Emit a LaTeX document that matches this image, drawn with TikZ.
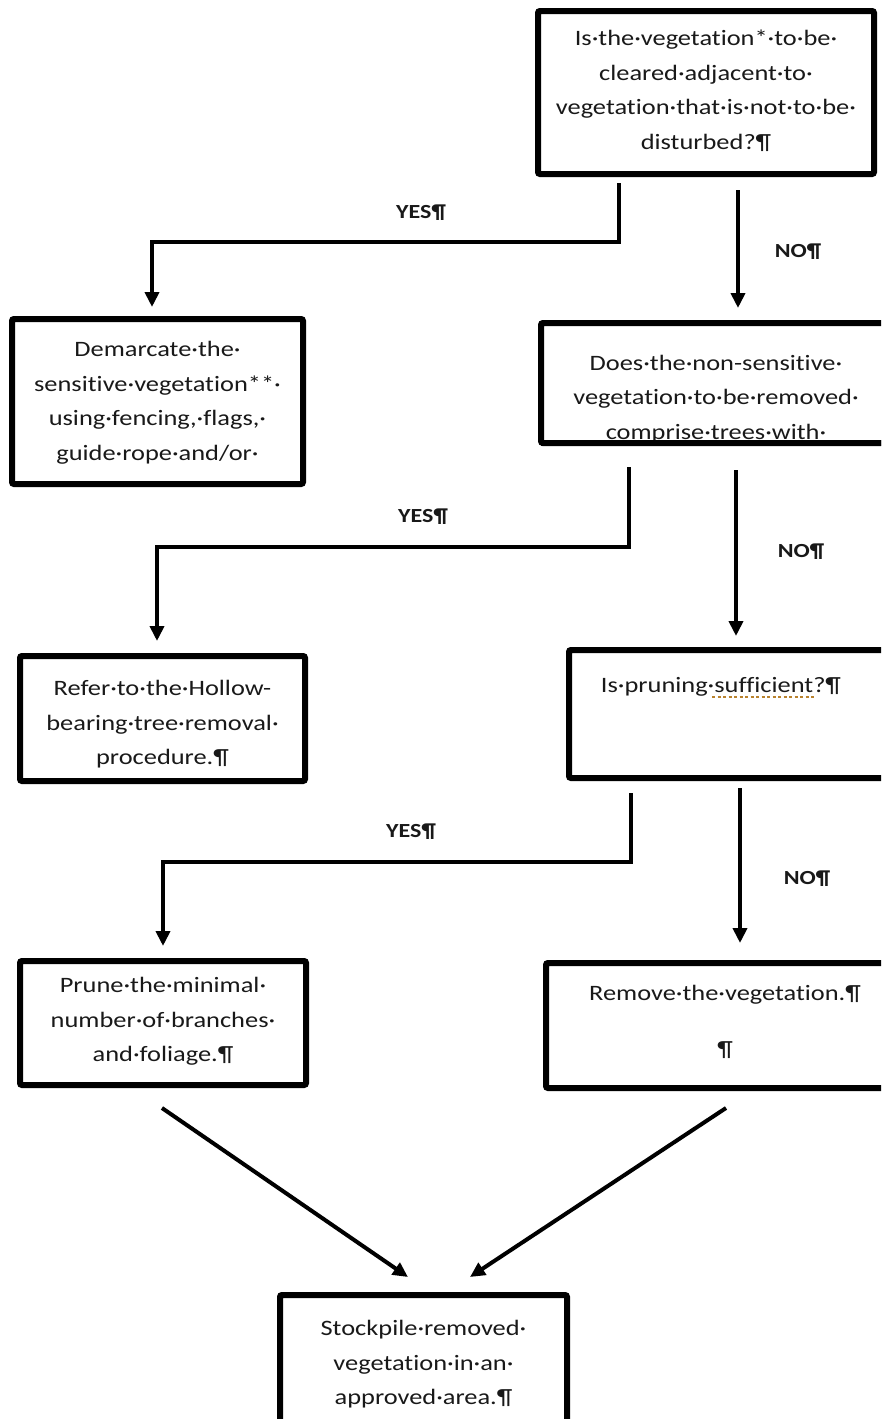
\documentclass[tikz,border=0pt]{standalone}
\usepackage{fontspec}
\setmainfont{Carlito}[FakeStretch=1.2, Ligatures=NoCommon]
\usetikzlibrary{arrows.meta}
\definecolor{txtc}{RGB}{25,25,25}
\definecolor{spellc}{RGB}{185,130,45}
\newcommand\bodyf{\fontsize{22}{34.5}\selectfont}
\newcommand\labf{\fontsize{20}{22}\selectfont\bfseries}
\begin{document}
\begin{tikzpicture}[x=1pt,y=-1pt,
  box/.style={draw, line width=6pt, rounded corners=2pt, inner sep=0pt, outer sep=0pt},
  txt/.style={anchor=north, align=center, inner sep=0pt, font=\bodyf, text=txtc},
  lab/.style={inner sep=0pt, font=\labf, text=txtc},
  arr/.style={line width=4pt, -{Triangle[length=15pt,width=14pt]}}]
\useasboundingbox (0,0) rectangle (881,1419);
\clip (0,0) rectangle (881,1419);
% boxes
\node[box, minimum width=336pt, minimum height=163pt] (q1) at (706,92.5) {};
\node[box, minimum width=291pt, minimum height=165pt] (demarc) at (157.5,401.5) {};
\node[box, minimum width=350pt, minimum height=120pt] (q2) at (716,383) {};
\node[box, minimum width=285pt, minimum height=125pt] (refer) at (162.5,718.5) {};
\node[box, minimum width=316pt, minimum height=128pt] (q3) at (727,714) {};
\node[box, minimum width=286pt, minimum height=124pt] (prune) at (163,1023) {};
\node[box, minimum width=358pt, minimum height=125pt] (remove) at (725,1025.5) {};
\node[box, minimum width=287pt, minimum height=145pt] (stock) at (423.5,1367.5) {};
% texts
\node[txt] (q1t) at (706,21.2) {\strut Is·the·vegetation*·to·be·\\\strut cleared·adjacent·to·\\\strut vegetation·that·is·not·to·be·\\\strut disturbed?¶};
\node[txt] (demarct) at (157.5,332.2) {\strut Demarcate·the·\\\strut sensitive·vegetation**·\\\strut using·fencing,·flags,·\\\strut guide·rope·and/or·};
\node[txt] (q2t) at (716,345.7) {\strut Does·the·non-sensitive·\\\strut vegetation·to·be·removed·\\\strut comprise·trees·with·};
\node[txt] (refert) at (162.5,671.2) {\strut Refer·to·the·Hollow-\\\strut bearing·tree·removal·\\\strut procedure.¶};
\node[txt] (q3t) at (721,668.2) {\strut Is·pruning·sufficient?¶};
\node[txt] (prunet) at (163,968.2) {\strut Prune·the·minimal·\\\strut number·of·branches·\\\strut and·foliage.¶};
\node[txt] (removet) at (725,976.2) {\strut Remove·the·vegetation.¶\\[21pt]\strut ¶};
\node[txt] (stockt) at (423.5,1311.2) {\strut Stockpile·removed·\\\strut vegetation·in·an·\\\strut approved·area.¶};
% redraw q2 bottom border over the clipped text line
\draw[line width=6pt] (q2.south west) -- (q2.south east);
% spelling underline
\draw[spellc, line width=2.5pt, dash pattern=on 3pt off 2.5pt] (712,697) -- (815,697);
% labels
\node[lab] (l1) at (421,213) {YES¶};
\node[lab] (l2) at (798,252) {NO¶};
\node[lab] (l3) at (423,517) {YES¶};
\node[lab] (l4) at (801,552) {NO¶};
\node[lab] (l5) at (411,832) {YES¶};
\node[lab] (l6) at (807,879) {NO¶};
% connectors
\draw[arr, shorten <=9pt, shorten >=12pt] (q1.south -| 619,0) -- (619,242) -| (demarc.north -| 152,0);
\draw[arr, shorten <=16pt, shorten >=15pt] (q1.south -| 738,0) -- (q2.north -| 738,0);
\draw[arr, shorten <=24pt, shorten >=15pt] (q2.south -| 629,0) -- (629,547) -| (refer.north -| 157,0);
\draw[arr, shorten <=27pt, shorten >=14pt] (q2.south -| 736,0) -- (q3.north -| 736,0);
\draw[arr, shorten <=15pt, shorten >=15pt] (q3.south -| 631,0) -- (631,862) -| (prune.north -| 163,0);
\draw[arr, shorten <=10pt, shorten >=20pt] (q3.south -| 740,0) -- (remove.north -| 740,0);
\draw[arr, shorten <=40.6pt, shorten >=31.8pt] (prune.south -| 128.5,0) -- (stock.north -| 434.2,0);
\draw[arr, shorten <=36.3pt, shorten >=32.7pt] (remove.south -| 756.3,0) -- (stock.north -| 442.7,0);
\end{tikzpicture}
\end{document}
